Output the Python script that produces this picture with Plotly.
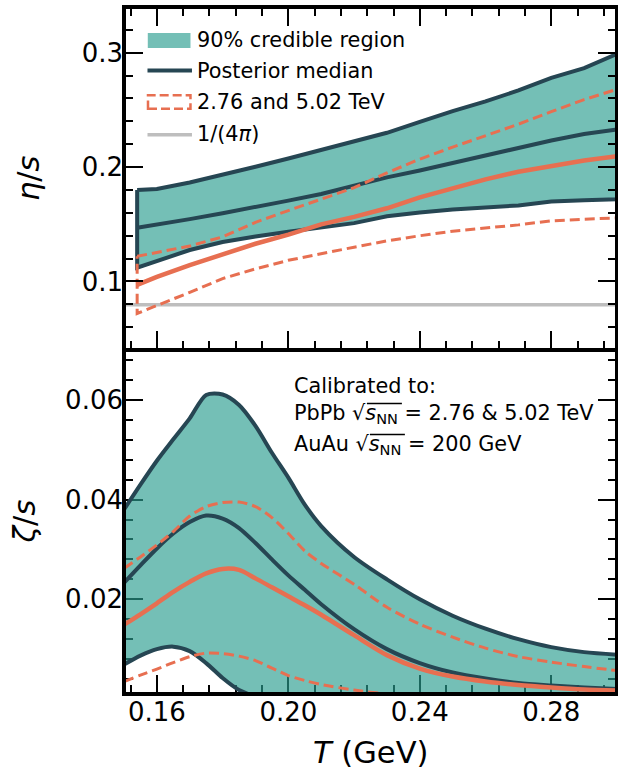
import math
import plotly.graph_objects as go

# ---- shear viscosity eta/s (upper panel) ----
T_eta = [0.154, 0.16, 0.17, 0.18, 0.19, 0.20, 0.21, 0.22, 0.23, 0.24,
         0.25, 0.26, 0.27, 0.28, 0.29, 0.30]
eta_hi = [0.180, 0.1808, 0.1865, 0.193, 0.2003, 0.2075, 0.2147, 0.222, 0.230, 0.2395,
          0.249, 0.2575, 0.267, 0.278, 0.2865, 0.299]
eta_med = [0.147, 0.1497, 0.1545, 0.1597, 0.165, 0.1707, 0.1765, 0.184, 0.191, 0.197,
           0.2036, 0.2104, 0.217, 0.2233, 0.229, 0.233]
eta_lo = [0.112, 0.118, 0.1275, 0.1345, 0.1393, 0.1435, 0.1475, 0.151, 0.157, 0.1603,
          0.163, 0.1648, 0.1665, 0.170, 0.171, 0.172]
# LHC-only calibration (2.76 and 5.02 TeV)
eta_lhc_hi = [0.122, 0.1255, 0.131, 0.139, 0.1517, 0.162, 0.172, 0.182, 0.195, 0.207,
              0.2175, 0.2275, 0.2375, 0.2485, 0.259, 0.268]
eta_lhc_med = [0.097, 0.104, 0.1143, 0.1235, 0.133, 0.141, 0.150, 0.1565, 0.164, 0.1735,
               0.1814, 0.1893, 0.196, 0.2011, 0.2057, 0.2095]
eta_lhc_lo = [0.072, 0.079, 0.0905, 0.1025, 0.111, 0.1185, 0.1245, 0.130, 0.1355, 0.140,
              0.144, 0.1468, 0.1495, 0.153, 0.1545, 0.1555]
KSS = 1.0 / (4.0 * math.pi)

# ---- bulk viscosity zeta/s (lower panel) ----
T_zeta = [0.150, 0.155, 0.160, 0.165, 0.170, 0.175, 0.180, 0.185, 0.190, 0.195, 0.200,
          0.205, 0.210, 0.220, 0.230, 0.240, 0.250, 0.260, 0.270, 0.280, 0.290, 0.300]
zeta_hi = [0.0380, 0.0430, 0.0478, 0.0521, 0.0563, 0.0610, 0.0611, 0.0590, 0.0548, 0.0494, 0.0444,
           0.0390, 0.0347, 0.0285, 0.0240, 0.0200, 0.0167, 0.0141, 0.0120, 0.0104, 0.0094, 0.0089]
zeta_med = [0.0233, 0.0268, 0.0302, 0.0332, 0.0355, 0.0368, 0.0362, 0.0343, 0.0313, 0.0280, 0.0248,
            0.0219, 0.0190, 0.0140, 0.0100, 0.0072, 0.0053, 0.0041, 0.0032, 0.0027, 0.0023, 0.0020]
zeta_lo = [0.0069, 0.0087, 0.0100, 0.0105, 0.0096, 0.0072, 0.0042, 0.0018, 0.0006, 0.0003, 0.0002,
           0.0002, 0.0001, 0.0001, 0.0001, 0.0001, 0.0001, 0.0001, 0.0001, 0.0001, 0.0001, 0.0001]
zeta_lhc_hi = [0.0262, 0.0285, 0.0309, 0.0336, 0.0367, 0.0386, 0.0394, 0.0395, 0.0386, 0.0364, 0.0332,
               0.0297, 0.0272, 0.0230, 0.0184, 0.0150, 0.0124, 0.0102, 0.0085, 0.0074, 0.0065, 0.0057]
zeta_lhc_med = [0.0149, 0.0170, 0.0192, 0.0215, 0.0235, 0.0252, 0.0261, 0.0259, 0.0242, 0.0224, 0.0206,
                0.0188, 0.0169, 0.0128, 0.0088, 0.0061, 0.0045, 0.0035, 0.0028, 0.0023, 0.0019, 0.0017]
zeta_lhc_lo = [0.0035, 0.0048, 0.0060, 0.0073, 0.0085, 0.0092, 0.0091, 0.0086, 0.0077, 0.0062, 0.0047,
               0.0037, 0.0029, 0.0018, 0.0010, 0.0006, 0.0004, 0.0003, 0.0002, 0.0002, 0.0001, 0.0001]

x_ticks = [0.16, 0.20, 0.24, 0.28]
x_ticktext = ["0.16", "0.20", "0.24", "0.28"]
eta_ticks = [0.1, 0.2, 0.3]
eta_ticktext = ["0.1", "0.2", "0.3"]
zeta_ticks = [0.02, 0.04, 0.06]
zeta_ticktext = ["0.02", "0.04", "0.06"]

legend_labels = ["90% credible region", "Posterior median", "2.76 and 5.02 TeV", "1/(4<i>π</i>)"]

# ---- styling ----
TEAL_FILL = "rgba(42,157,143,0.65)"
DARK = "#264653"
ORANGE = "#e76f51"
GREY = "#bebebe"
FONT = "DejaVu Sans"
DASH = "10px,5px"

W, H = 618, 770
ML, MR, MT, MB = 123.5, 1.3, 7.2, 76.0
PW = W - ML - MR
PH = H - MT - MB


def pxx(x):
    return (x - ML) / PW


def pxy(y):
    return (H - MB - y) / PH


split = pxy(350.2)


def band(xs, hi, lo):
    return list(xs) + list(xs[::-1]) + [xs[0]], list(hi) + list(lo[::-1]) + [hi[0]]


fig = go.Figure()

# upper panel
fig.add_trace(go.Scatter(x=[0.15, 0.30], y=[KSS, KSS], mode="lines",
                         line=dict(color=GREY, width=3.5), xaxis="x2", yaxis="y2"))
bx, by = band(T_eta, eta_hi, eta_lo)
fig.add_trace(go.Scatter(x=bx, y=by, mode="lines", fill="toself", fillcolor=TEAL_FILL,
                         line=dict(color=DARK, width=4), xaxis="x2", yaxis="y2"))
fig.add_trace(go.Scatter(x=T_eta, y=eta_med, mode="lines",
                         line=dict(color=DARK, width=4), xaxis="x2", yaxis="y2"))
bx, by = band(T_eta, eta_lhc_hi, eta_lhc_lo)
fig.add_trace(go.Scatter(x=bx, y=by, mode="lines",
                         line=dict(color=ORANGE, width=3, dash=DASH), xaxis="x2", yaxis="y2"))
fig.add_trace(go.Scatter(x=T_eta, y=eta_lhc_med, mode="lines",
                         line=dict(color=ORANGE, width=4.5), xaxis="x2", yaxis="y2"))

# lower panel: filled band plus smooth boundary curves
SPL = dict(shape="spline", smoothing=0.8)
bx, by = band(T_zeta, zeta_hi, zeta_lo)
fig.add_trace(go.Scatter(x=bx, y=by, mode="lines", fill="toself", fillcolor=TEAL_FILL,
                         line=dict(width=0), xaxis="x", yaxis="y"))
for ys in (zeta_hi, zeta_lo, zeta_med):
    fig.add_trace(go.Scatter(x=T_zeta, y=ys, mode="lines",
                             line=dict(color=DARK, width=4, **SPL), xaxis="x", yaxis="y"))
for ys in (zeta_lhc_hi, zeta_lhc_lo):
    fig.add_trace(go.Scatter(x=T_zeta, y=ys, mode="lines",
                             line=dict(color=ORANGE, width=3, dash=DASH, **SPL), xaxis="x", yaxis="y"))
fig.add_trace(go.Scatter(x=[T_zeta[0], T_zeta[0]], y=[zeta_lhc_lo[0], zeta_lhc_hi[0]], mode="lines",
                         line=dict(color=ORANGE, width=3, dash=DASH), xaxis="x", yaxis="y"))
fig.add_trace(go.Scatter(x=T_zeta, y=zeta_lhc_med, mode="lines",
                         line=dict(color=ORANGE, width=4.5, **SPL), xaxis="x", yaxis="y"))

tickfont = dict(family=FONT, size=26, color="black")
common = dict(ticks="inside", ticklen=19, tickwidth=2, tickcolor="black",
              showline=False, showgrid=False, zeroline=False, tickfont=tickfont)

fig.update_layout(
    width=W, height=H,
    margin=dict(l=ML, r=MR, t=MT, b=MB, pad=0),
    paper_bgcolor="white", plot_bgcolor="white",
    showlegend=False,
    font=dict(family=FONT, color="black"),
    xaxis=dict(domain=[0, 1], anchor="y", range=[0.15, 0.30], tickmode="array",
               tickvals=x_ticks, ticktext=x_ticktext, layer="below traces",
               minor=dict(ticks="inside", ticklen=9, tickwidth=1.5, tickcolor="black",
                          tick0=0, dtick=0.008), **common),
    xaxis2=dict(domain=[0, 1], anchor="y2", range=[0.15, 0.30], matches="x", tickmode="array",
                tickvals=x_ticks, showticklabels=False, mirror="ticks",
                minor=dict(ticks="inside", ticklen=9, tickwidth=1.5, tickcolor="black",
                           tick0=0, dtick=0.008), **common),
    yaxis=dict(domain=[0, split], anchor="x", range=[0.001, 0.07], tickmode="array",
               tickvals=zeta_ticks, ticktext=zeta_ticktext, mirror="ticks", layer="below traces",
               minor=dict(ticks="inside", ticklen=9, tickwidth=1.5, tickcolor="black",
                          tick0=0, dtick=0.004), **common),
    yaxis2=dict(domain=[split, 1], anchor="x2", range=[0.04, 0.34], tickmode="array",
                tickvals=eta_ticks, ticktext=eta_ticktext, mirror="ticks",
                minor=dict(ticks="inside", ticklen=9, tickwidth=1.5, tickcolor="black",
                           tick0=0, dtick=0.02), **common),
)

shapes = []
# panel frames
for xr, yr in (("x domain", "y domain"), ("x2 domain", "y2 domain")):
    shapes.append(dict(type="rect", xref=xr, yref=yr, x0=0, x1=1, y0=0, y1=1,
                       line=dict(color="black", width=4), layer="above"))

# legend keys
shapes.append(dict(type="rect", xref="paper", yref="paper", x0=pxx(147.3), x1=pxx(190),
                   y0=pxy(48.3), y1=pxy(33.3), fillcolor=TEAL_FILL, line=dict(width=0)))
shapes.append(dict(type="line", xref="paper", yref="paper", x0=pxx(147), x1=pxx(191.5),
                   y0=pxy(70.7), y1=pxy(70.7), line=dict(color=DARK, width=4)))
shapes.append(dict(type="rect", xref="paper", yref="paper", x0=pxx(147.5), x1=pxx(190),
                   y0=pxy(109), y1=pxy(95.3), line=dict(color=ORANGE, width=2.5, dash="9px,4px")))
shapes.append(dict(type="line", xref="paper", yref="paper", x0=pxx(147), x1=pxx(191.5),
                   y0=pxy(135), y1=pxy(135), line=dict(color=GREY, width=3.5)))

# radical overbars for sqrt(s_NN)
for x0, x1, yb in ((366.5, 401.5, 403.6), (369.5, 404.5, 434.6)):
    shapes.append(dict(type="line", xref="paper", yref="paper", x0=pxx(x0), x1=pxx(x1),
                       y0=pxy(yb), y1=pxy(yb), line=dict(color="black", width=1.4)))

annotations = []
for lab, yc in zip(legend_labels, [40.5, 71, 102, 134]):
    annotations.append(dict(text=lab, xref="paper", yref="paper", x=pxx(195), y=pxy(yc),
                            xanchor="left", yanchor="middle", showarrow=False,
                            font=dict(family=FONT, size=20.8, color="black")))

calib_lines = [
    ("Calibrated to:", 386.5),
    ("PbPb √<i>s</i><sub>NN</sub> = 2.76 &amp; 5.02 TeV", 414.5),
    ("AuAu √<i>s</i><sub>NN</sub> = 200 GeV", 445.5),
]
for txt, yc in calib_lines:
    annotations.append(dict(text=txt, xref="paper", yref="paper", x=pxx(292), y=pxy(yc),
                            xanchor="left", yanchor="middle", showarrow=False,
                            font=dict(family=FONT, size=20.8, color="black")))

# axis titles
annotations.append(dict(text="<i>T</i> (GeV)", xref="paper", yref="paper", x=pxx(370), y=pxy(752),
                        xanchor="center", yanchor="middle", showarrow=False,
                        font=dict(family=FONT, size=30.5, color="black")))
annotations.append(dict(text="<i>η</i>/<i>s</i>", xref="paper", yref="paper", x=pxx(28), y=pxy(178.7),
                        xanchor="center", yanchor="middle", showarrow=False, textangle=-90,
                        font=dict(family=FONT, size=30.5, color="black")))
annotations.append(dict(text="<i>ζ</i>/<i>s</i>", xref="paper", yref="paper", x=pxx(24), y=pxy(522),
                        xanchor="center", yanchor="middle", showarrow=False, textangle=-90,
                        font=dict(family=FONT, size=30.5, color="black")))

fig.update_layout(shapes=shapes, annotations=annotations)
fig.write_html("out.html")
